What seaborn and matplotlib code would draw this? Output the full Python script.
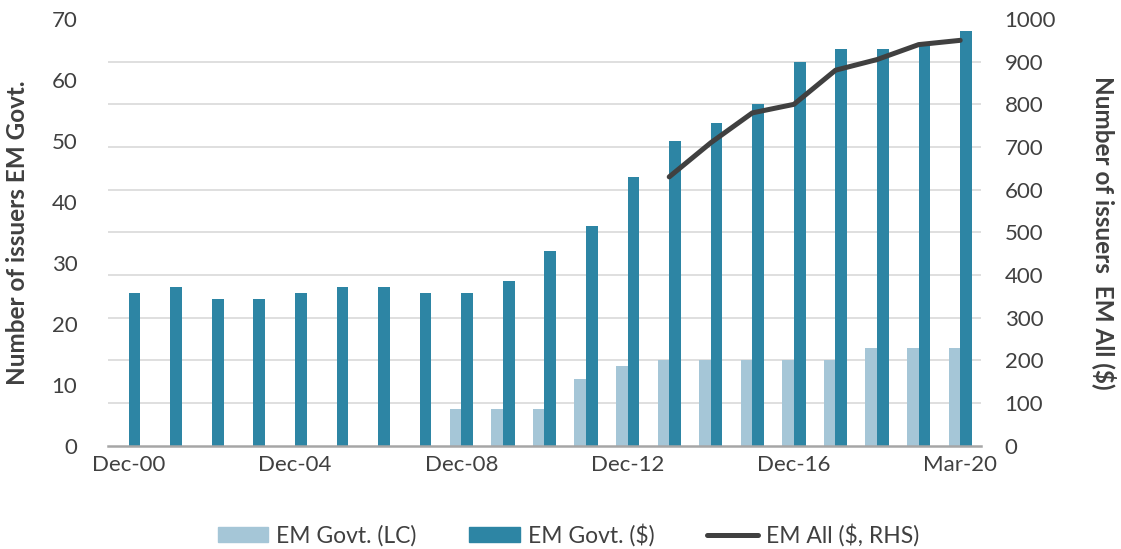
import matplotlib
matplotlib.use("Agg")
import matplotlib.pyplot as plt
import seaborn as sns
import pandas as pd
import numpy as np
from matplotlib.lines import Line2D

categories = ["Dec-00", "Dec-01", "Dec-02", "Dec-03", "Dec-04", "Dec-05", "Dec-06",
              "Dec-07", "Dec-08", "Dec-09", "Dec-10", "Dec-11", "Dec-12", "Dec-13",
              "Dec-14", "Dec-15", "Dec-16", "Dec-17", "Dec-18", "Dec-19", "Mar-20"]
govt_lc = [0, 0, 0, 0, 0, 0, 0, 0, 6, 6, 6, 11, 13, 14, 14, 14, 14, 14, 16, 16, 16]
govt_usd = [25, 26, 24, 24, 25, 26, 26, 25, 25, 27, 32, 36, 44, 50, 53, 56, 63, 65, 65, 66, 68]
em_all = [None] * 13 + [630, 710, 780, 800, 880, 905, 940, 950]
tick_labels = ["Dec-00", "", "", "", "Dec-04", "", "", "", "Dec-08", "", "", "",
               "Dec-12", "", "", "", "Dec-16", "", "", "", "Mar-20"]

LIGHT = "#a5c6d7"
DARK = "#2d85a4"
LINEC = "#404040"
TXT = "#404040"

sns.set_theme(style="white")
plt.rcParams['font.family'] = ['Lato', 'DejaVu Sans']

df = pd.DataFrame({
    "date": categories * 2,
    "value": govt_lc + govt_usd,
    "series": ["EM Govt. (LC)"] * len(categories) + ["EM Govt. ($)"] * len(categories),
})

fig = plt.figure(figsize=(11.21, 5.49), dpi=100)
ax = fig.add_axes([108/1121, 1-445.7/549, (981-108)/1121, (445.7-19)/549])
sns.barplot(data=df, x="date", y="value", hue="series", order=categories,
            palette=[LIGHT, DARK], saturation=1, width=0.56, ax=ax, linewidth=0,
            legend=False)
ax.set_xlim(-0.5, len(categories) - 0.5)
ax.set_ylim(0, 70)
ax.set_yticks(np.arange(0, 71, 10))
ax.set_yticks(np.arange(0, 71, 7), minor=True)
ax.grid(which="minor", axis="y", color="#d9d9d9", linewidth=1.2)
ax.grid(which="major", axis="y", visible=False)
ax.set_axisbelow(True)
ax.set_xticks(range(len(categories)))
ax.set_xticklabels(tick_labels)
ax.tick_params(axis="y", which="both", length=0, pad=22, labelsize=16, labelcolor=TXT)
ax.tick_params(axis="x", length=0, pad=7, labelsize=16, labelcolor=TXT)
ax.set_xlabel("")
ax.set_ylabel("Number of issuers EM Govt.", fontsize=17.5, fontweight="bold", color=TXT,
              labelpad=16)
for s in ["left", "right", "top"]:
    ax.spines[s].set_visible(False)
ax.spines["bottom"].set_color("#a6a6a6")
ax.spines["bottom"].set_linewidth(1.8)

ax2 = ax.twinx()
line_df = pd.DataFrame({"x": list(range(len(categories))), "y": em_all}).dropna()
sns.lineplot(data=line_df, x="x", y="y", ax=ax2, color=LINEC, linewidth=3.6,
             solid_capstyle="round")
ax2.set_ylim(0, 1000)
ax2.set_yticks(np.arange(0, 1001, 100))
ax2.tick_params(axis="y", length=0, pad=17, labelsize=16, labelcolor=TXT)
ax2.set_ylabel("Number of issuers  EM All ($)", fontsize=17.5, fontweight="bold",
               color=TXT, rotation=270, labelpad=44)
ax2.set_xlabel("")
for s in ["left", "right", "top", "bottom"]:
    ax2.spines[s].set_visible(False)
ax2.grid(False)

handles = [plt.Rectangle((0, 0), 1, 1, color=LIGHT),
           plt.Rectangle((0, 0), 1, 1, color=DARK),
           Line2D([0], [0], color=LINEC, linewidth=3.6, solid_capstyle="round")]
labels = ["EM Govt. (LC)", "EM Govt. ($)", "EM All ($, RHS)"]
fig.legend(handles, labels, loc="center", bbox_to_anchor=(0.507, 1-535/549), ncol=3,
           frameon=False, fontsize=16.5, handlelength=2.2, handleheight=0.65,
           handletextpad=0.35, columnspacing=2.3, labelcolor=TXT)

fig.savefig("out.png", dpi=100)
